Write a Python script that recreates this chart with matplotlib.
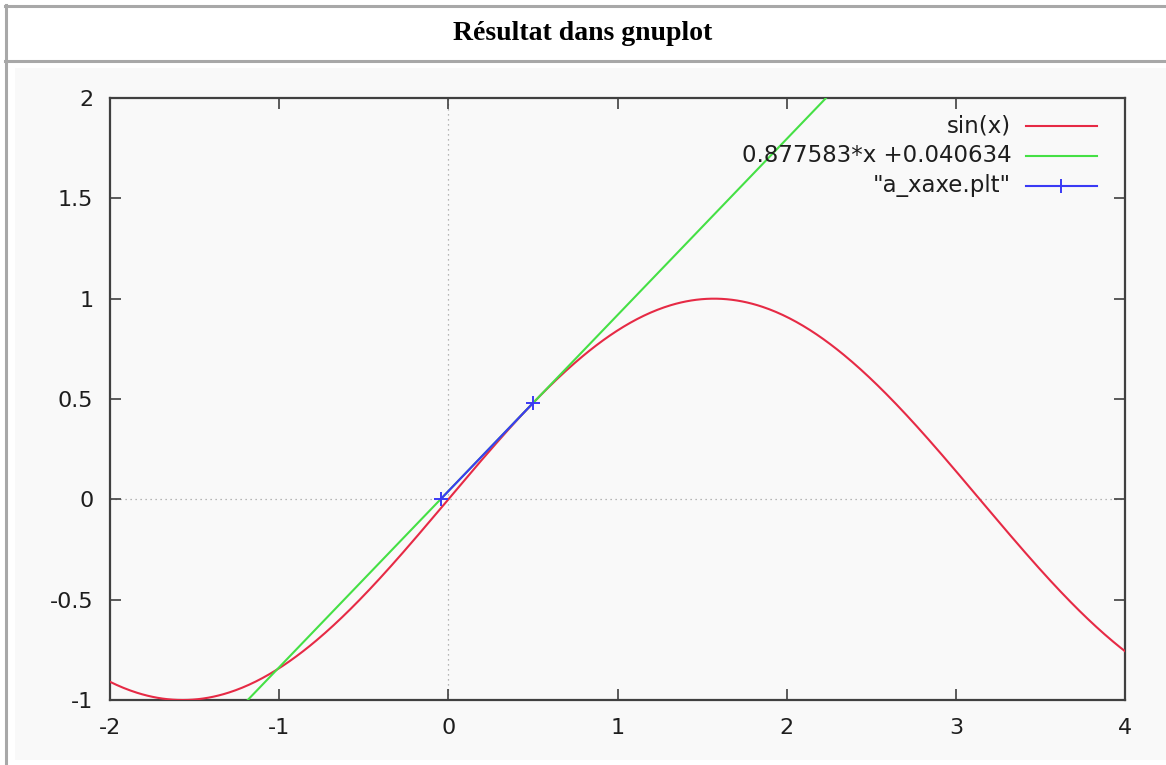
import numpy as np
import matplotlib.pyplot as plt
from matplotlib.patches import Rectangle
from matplotlib.lines import Line2D

plt.rcParams['axes.unicode_minus'] = False

# data
title = "Résultat dans gnuplot"
x_range = [-2, 4]
y_range = [-1, 2]
x_ticks = [-2, -1, 0, 1, 2, 3, 4]
y_ticks = [-1, -0.5, 0, 0.5, 1, 1.5, 2]
y_tick_labels = ["-1", "-0.5", "0", "0.5", "1", "1.5", "2"]

# tangent line 0.877583*x + 0.040634
slope = 0.877583
intercept = 0.040634

# "a_xaxe.plt" points
pts_x = [-0.0463, 0.5]
pts_y = [0.0, 0.4794]

labels = ["sin(x)", "0.877583*x +0.040634", '"a_xaxe.plt"']
colors = ["#e62a45", "#45e045", "#3a3af5"]

W, H = 1166, 765
fig = plt.figure(figsize=(W / 100, H / 100), dpi=100)
fig.patch.set_facecolor("white")

# table-ish frame
fig.add_artist(Rectangle((15 / W, 1 - 760 / H), 1, (760 - 68) / H,
                         transform=fig.transFigure, facecolor="#f9f9f9",
                         edgecolor="none", zorder=0))
border = "#a8a8a8"
fig.add_artist(Line2D([6 / W, 6 / W], [0, 1 - 5 / H], transform=fig.transFigure,
                      color=border, lw=2.2))
fig.add_artist(Line2D([5 / W, 1], [1 - 6 / H, 1 - 6 / H], transform=fig.transFigure,
                      color=border, lw=2.2))
fig.add_artist(Line2D([5 / W, 1], [1 - 61 / H, 1 - 61 / H], transform=fig.transFigure,
                      color=border, lw=2.2))
fig.text(583 / W, 1 - 34 / H, title, ha="center", va="center",
         fontsize=20, fontweight="bold", family="Liberation Serif")

ax = fig.add_axes([110 / W, 1 - 700 / H, (1125 - 110) / W, (700 - 98) / H])
ax.set_facecolor("none")

x = np.linspace(x_range[0], x_range[1], 600)
ax.plot(x, np.sin(x), color=colors[0], lw=1.5, zorder=3)
ax.plot(x, slope * x + intercept, color=colors[1], lw=1.5, zorder=3)
ax.plot(pts_x, pts_y, color=colors[2], lw=1.5, marker="+", ms=10, mew=1.4, zorder=4)

ax.axhline(0, color="#a0a0a0", lw=0.9, ls=(0, (1, 3)), zorder=1)
ax.axvline(0, color="#a0a0a0", lw=0.9, ls=(0, (1, 3)), zorder=1)

ax.set_xlim(x_range)
ax.set_ylim(y_range)
ax.set_xticks(x_ticks)
ax.set_yticks(y_ticks)
ax.set_yticklabels(y_tick_labels)
ax.tick_params(direction="in", length=8, width=1.2, color="#404040",
               top=True, right=True, labelsize=16, labelcolor="#1e1e1e")
ax.tick_params(axis="x", pad=13)
ax.tick_params(axis="y", pad=12)
for s in ax.spines.values():
    s.set_color("#404040")
    s.set_linewidth(1.6)

# legend, gnuplot style (text right aligned, sample on the right)
for i, (lab, c) in enumerate(zip(labels, colors)):
    yy = 0.954 - i * 0.05
    ax.text(0.888, yy, lab, transform=ax.transAxes, ha="right", va="center",
            fontsize=16.5, color="#1e1e1e")
    ax.plot([0.902, 0.972], [yy, yy], transform=ax.transAxes, color=c, lw=1.5,
            clip_on=False)
    if i == 2:
        ax.plot([0.937], [yy], transform=ax.transAxes, color=c, marker="+",
                ms=10, mew=1.4, clip_on=False)

fig.savefig("out.png", dpi=100)
